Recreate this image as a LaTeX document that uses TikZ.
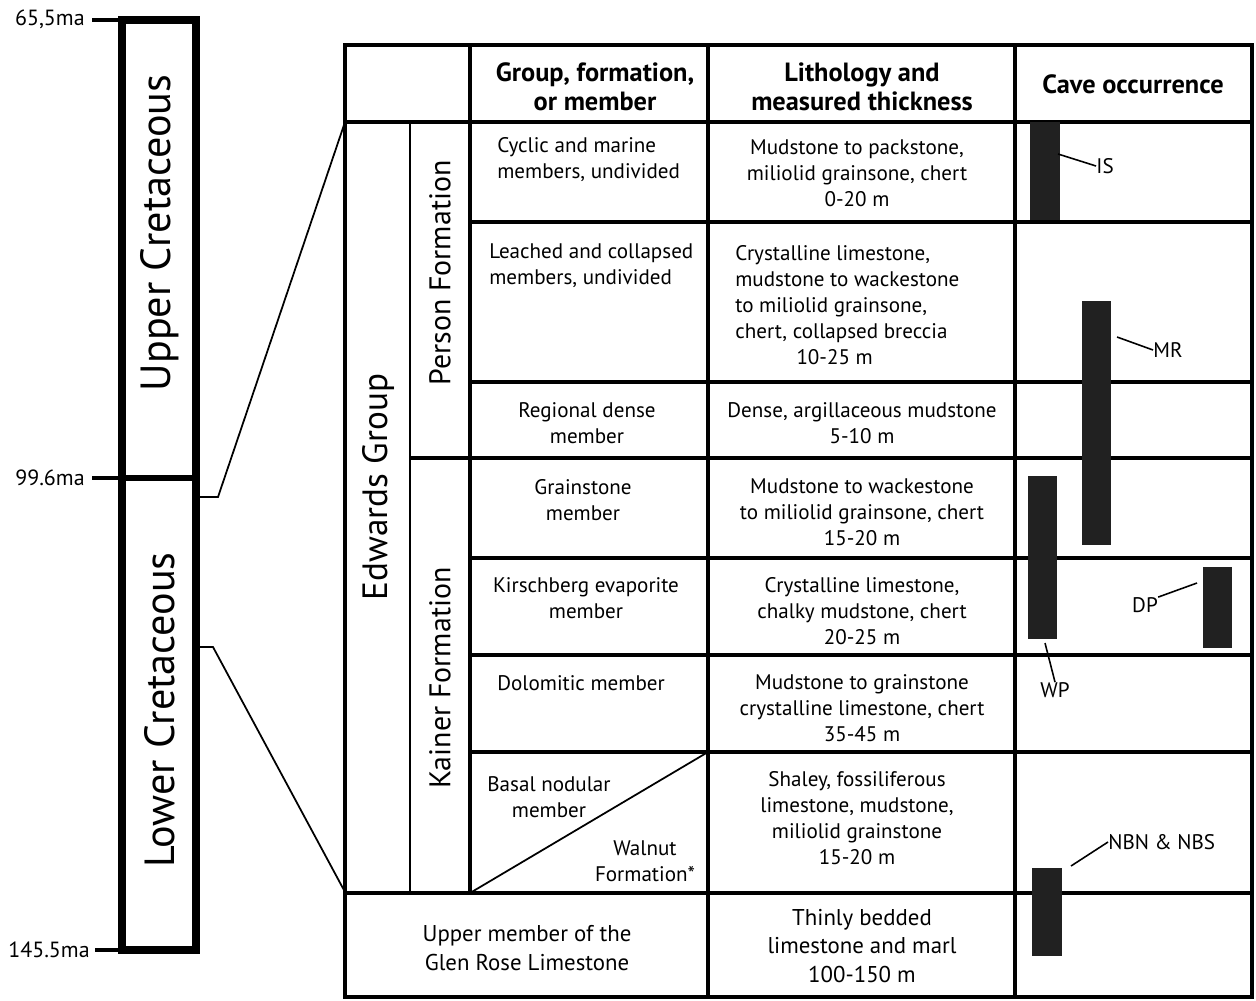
\documentclass[tikz,border=0pt]{standalone}
\usepackage{fontspec}
\setmainfont{PT Sans}
\begin{document}
\begin{tikzpicture}[x=0.02cm, y=-0.02cm,
  cell/.style={font=\fontsize{12}{14.8}\selectfont, align=center, inner sep=0pt},
  head/.style={font=\fontsize{15}{16.8}\selectfont\bfseries, align=center, inner sep=0pt},
  age/.style={font=\fontsize{12.5}{15}\selectfont, anchor=east, inner sep=0pt},
  bar/.style={fill=black!87, draw=none, inner sep=0pt, anchor=north west},
  rule/.style={line width=1.9pt},
  thin rule/.style={line width=1pt},
  leader/.style={line width=0.9pt}]
\useasboundingbox (0,0) rectangle (1256,1000);
% \draw[red] (0,0) rectangle (1256,1000);

% time scale
\draw[line width=4.2pt] (122,20) rectangle (196,950);
\draw[line width=3pt] (122,478) -- (196,478);
\draw[line width=2.3pt] (92,20) -- (122,20);
\draw[line width=2.3pt] (92,478) -- (122,478);
\draw[line width=2.3pt] (95,950) -- (122,950);
\node[age] (Top age) at (85,19) {65,5ma};
\node[age] (Mid age) at (85,478) {99.6ma};
\node[age] (Base age) at (90,950) {145.5ma};
\node[rotate=90, font=\fontsize{24}{28}\selectfont, inner sep=0pt] (Upper) at (160,233) {Upper Cretaceous};
\node[rotate=90, font=\fontsize{24}{28}\selectfont, inner sep=0pt] (Lower) at (160,710) {Lower Cretaceous};

% table frame
\draw[line width=2.8pt] (345,45) rectangle (1252,997);
\draw[rule] (345,122) -- (1252,122);
\draw[rule] (470,45) -- (470,893);
\draw[rule] (708,45) -- (708,997);
\draw[rule] (1015,45) -- (1015,997);
\draw[thin rule] (410,122) -- (410,893);
\draw[rule] (470,222) -- (1252,222);
\draw[rule] (470,382) -- (1252,382);
\draw[rule] (410,458) -- (1252,458);
\draw[rule] (470,558) -- (1252,558);
\draw[rule] (470,655) -- (1252,655);
\draw[rule] (470,752) -- (1252,752);
\draw[rule] (345,893) -- (1252,893);
\draw[thin rule] (470,893) -- (708,752);

% headings
\node[head] (Group head) at (595,87) {Group, formation,\\or member};
\node[head] (Litho head) at (862,87) {Lithology and\\measured thickness};
\node[head] (Cave head) at (1133,84) {Cave occurrence};

\node[rotate=90, font=\fontsize{20}{24}\selectfont, inner sep=0pt] (Edwards) at (378,487) {Edwards Group};
\node[rotate=90, font=\fontsize{17}{20}\selectfont, inner sep=0pt] (Person) at (440,273) {Person Formation};
\node[rotate=90, font=\fontsize{17}{20}\selectfont, inner sep=0pt] (Kainer) at (440,678) {Kainer Formation};

% members
\node[cell, align=left, anchor=west] (Cyclic members) at (497,160) {Cyclic and marine\\members, undivided};
\node[cell, align=left, anchor=west] (Leached members) at (489,266) {Leached and collapsed\\members, undivided};
\node[cell] (Regional member) at (587,423) {Regional dense\\member};
\node[cell] (Grainstone member) at (583,500) {Grainstone\\member};
\node[cell] (Kirschberg member) at (586,598) {Kirschberg evaporite\\member};
\node[cell, anchor=west] (Dolomitic member) at (497,683) {Dolomitic member};
\node[cell] (Basal member) at (549,797) {Basal nodular\\member};
\node[cell] (Walnut) at (645,861) {Walnut\\Formation*};
\node[cell, font=\fontsize{13}{16.3}\selectfont] (Glen Rose) at (527,948) {Upper member of the\\Glen Rose Limestone};

% lithology
\node[cell] (Litho 1) at (857,173) {Mudstone to packstone,\\miliolid grainsone, chert\\0-20 m};
\node[cell, align=left, anchor=west] (Litho 2) at (735,305) {Crystalline limestone,\\ mudstone to wackestone\\to miliolid grainsone,\\chert, collapsed breccia\\\hspace*{2.9em}10-25 m};
\node[cell] (Litho 3) at (862,423) {Dense, argillaceous mudstone\\5-10 m};
\node[cell] (Litho 4) at (862,512) {Mudstone to wackestone\\to miliolid grainsone, chert\\15-20 m};
\node[cell] (Litho 5) at (862,611) {Crystalline limestone,\\chalky mudstone, chert\\20-25 m};
\node[cell] (Litho 6) at (862,708) {Mudstone to grainstone\\crystalline limestone, chert\\35-45 m};
\node[cell] (Litho 7) at (857,818) {Shaley, fossiliferous\\limestone, mudstone,\\miliolid grainstone\\15-20 m};
\node[cell, font=\fontsize{13}{16.3}\selectfont] (Litho 8) at (862,946) {Thinly bedded\\limestone and marl\\100-150 m};

% cave bars
\node[bar, minimum width=0.6cm, minimum height=1.96cm] (IS bar) at (1030,122) {};
\node[bar, minimum width=0.58cm, minimum height=4.88cm] (MR bar) at (1082,301) {};
\node[bar, minimum width=0.58cm, minimum height=3.26cm] (WP bar) at (1028,476) {};
\node[bar, minimum width=0.58cm, minimum height=1.62cm] (DP bar) at (1203,567) {};
\node[bar, minimum width=0.6cm, minimum height=1.76cm] (NBN bar) at (1032,868) {};

\node[cell, anchor=west] (IS label) at (1096,166) {IS};
\node[cell, anchor=west] (MR label) at (1153,350) {MR};
\node[cell] (WP label) at (1055,690) {WP};
\node[cell] (DP label) at (1145,605) {DP};
\node[cell, anchor=west] (NBN label) at (1108,842) {NBN \& NBS};

\coordinate (IS tip) at (1058,154);
\coordinate (MR tip) at (1117,337);
\coordinate (WP tip) at (1045,643);
\coordinate (DP tip) at (1197,583);
\coordinate (NBN tip) at (1071,866);

\draw[leader] (IS label.west) -- (IS tip);
\draw[leader] (MR label.west) -- (MR tip);
\draw[leader] (WP label.north) -- (WP tip);
\draw[leader] (DP label.north east) -- (DP tip);
\draw[leader] (NBN label.west) -- (NBN tip);

% links to the time scale
\coordinate (Upper tie) at (197,497);
\coordinate (Lower tie) at (197,647);
\coordinate (Edwards top) at (345,122);
\coordinate (Edwards base) at (345,892);
\draw[thin rule] (Upper tie) -- ++(21,0) -- (Edwards top);
\draw[thin rule] (Lower tie) -- ++(16,0) -- (Edwards base);
\end{tikzpicture}
\end{document}
